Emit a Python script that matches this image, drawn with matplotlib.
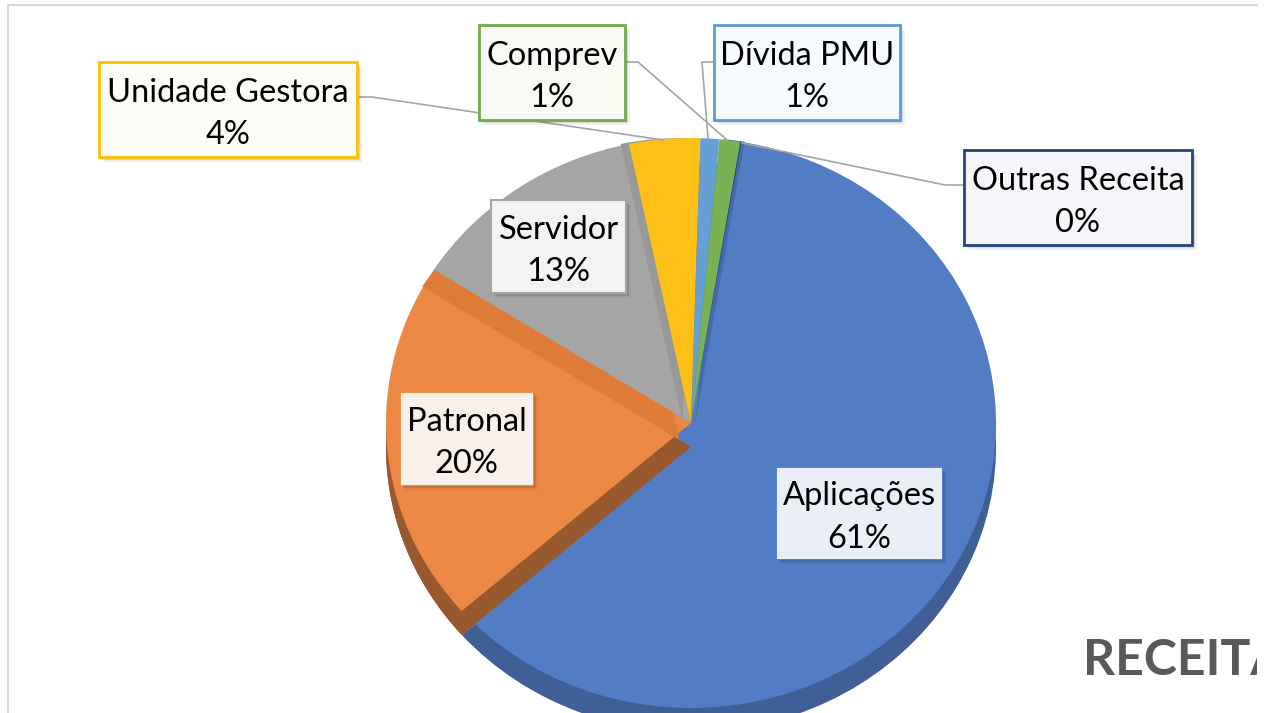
import matplotlib
matplotlib.use('Agg')
import matplotlib.pyplot as plt
from matplotlib.patches import Rectangle

plt.rcParams['font.family'] = ['Lato', 'DejaVu Sans']

# slices, clockwise from the blue one
categories = ['Aplicações', 'Patronal', 'Servidor', 'Unidade Gestora', 'Dívida PMU', 'Comprev', 'Outras Receita']
values = [60.9, 20.5, 12.7, 3.75, 1.0, 1.1, 0.05]
pct_labels = ['61%', '20%', '13%', '4%', '1%', '1%', '0%']

face_colors = ['#527cc4', '#ec8844', '#a5a5a5', '#fdc016', '#659fd6', '#78b254', '#264478']
wall_colors = ['#3f5f96', '#99592f', '#7a7a7a', '#a8801a', '#4a76a0', '#5a8540', '#1c3358']

# label boxes in pixels: left, top, right, bottom
boxes = [(776, 467, 942, 559), (400, 392, 533, 485), (491, 200, 626, 293),
         (99, 62, 357, 157), (714, 25, 900, 120), (479, 25, 625, 120), (964, 150, 1192, 245)]
box_edges = ['#4472c4', '#ed7d31', '#a5a5a5', '#ffc000', '#5b9bd5', '#70ad47', '#264478']
box_fills = ['#eaeff7', '#faf0ea', '#f3f3f3', '#fdfcf6', '#f6f9fd', '#f6f9f4', '#f4f6f9']
edge_widths = [0.5, 0.5, 1.5, 2, 2, 2, 2]

# leader lines in pixels
leaders = [
    ([360, 372, 663], [97, 97, 140]),
    ([714, 702, 708], [62, 62, 138]),
    ([625, 638, 727], [62, 62, 140]),
    ([964, 945, 742], [185, 185, 143]),
]

W, H = 1269, 713
fig = plt.figure(figsize=(W / 100, H / 100), dpi=100)

# pie axes, squashed so the circle is a little flat
ax = fig.add_axes([386 / W, (H - 708) / H, 610 / W, 570 / H])
start = 80.5
drop = 0.084


def one_slice(i, color, z, center=(0, 0)):
    # pie of all values, only slice i is kept
    wedges, _ = ax.pie(values, colors=[color] * len(values), startangle=start, counterclock=False, center=center)
    for j, w in enumerate(wedges):
        w.set_visible(j == i)
        w.set_zorder(z)


# side wall
for i in range(len(values)):
    one_slice(i, wall_colors[i], 1, (0, -drop))

# blue face, then orange wall over it, then the other faces
one_slice(0, face_colors[0], 2)
one_slice(5, '#4669ad', 2.5, (0.014, 0))
one_slice(1, wall_colors[1], 3, (0, -drop))
one_slice(1, face_colors[1], 4)
one_slice(2, '#df7b38', 4.5, (-0.038, -0.059))
one_slice(2, face_colors[2], 5)
one_slice(3, '#989898', 5.5, (-0.027, 0))
for i in range(3, len(values)):
    one_slice(i, face_colors[i], 6)

ax.set_aspect('auto')
ax.set_xlim(-1, 1)
ax.set_ylim(-1, 1)

# overlay in pixel coordinates for frame, callouts and text
ov = fig.add_axes([0, 0, 1, 1], facecolor='none')
ov.set_xlim(0, W)
ov.set_ylim(H, 0)
ov.axis('off')

ov.plot([8, 8, 1257], [H, 5, 5], color='#d9d9d9', lw=1.5, zorder=1)

for xs, ys in leaders:
    ov.plot(xs, ys, color='#a5a5a5', lw=1.2, zorder=2)

for i, (l, t, r, b) in enumerate(boxes):
    for off, a in [(6, 0.06), (4, 0.1), (2, 0.15)]:
        ov.add_patch(Rectangle((l + off - 1, t + off - 1), r - l, b - t, facecolor='black', alpha=a, edgecolor='none', zorder=3))
    ov.add_patch(Rectangle((l, t), r - l, b - t, facecolor=box_fills[i], edgecolor=box_edges[i], lw=edge_widths[i], zorder=4))
    ov.text((l + r) / 2, (t + b) / 2 + 4.5, categories[i] + '\n' + pct_labels[i], ha='center', va='center',
            fontsize=23.5, color='black', linespacing=1.53, zorder=5)

receita = ov.text(1083, 675, 'RECEITAS', fontsize=36, fontweight='bold', color='#595959', ha='left', va='baseline', zorder=5)
receita.set_clip_path(Rectangle((0, 0), 1257, H, transform=ov.transData))
receita.set_clip_on(True)

fig.savefig('out.png', dpi=100, facecolor='white')
